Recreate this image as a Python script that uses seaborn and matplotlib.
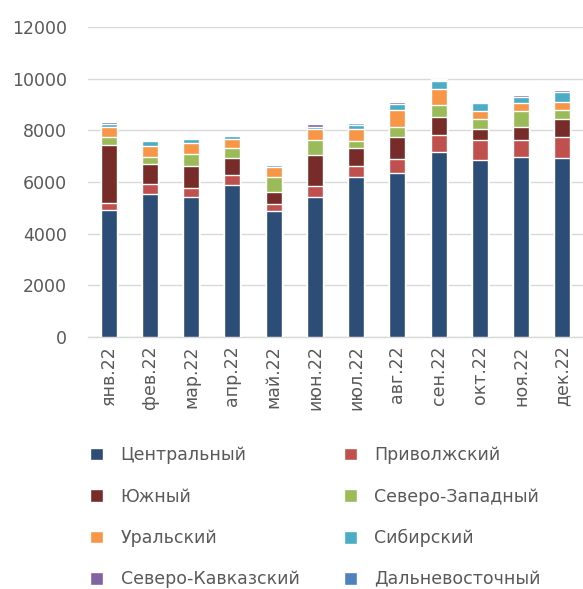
import numpy as np
import pandas as pd
import matplotlib
matplotlib.use("Agg")
import matplotlib.pyplot as plt
import seaborn as sns

# months (x categories)
months = ["янв.22", "фев.22", "мар.22", "апр.22", "май.22", "июн.22",
          "июл.22", "авг.22", "сен.22", "окт.22", "ноя.22", "дек.22"]

# series values
central = [4910, 5515, 5412, 5876, 4858, 5412, 6198, 6327, 7139, 6830, 6946, 6933]
volga = [270, 413, 361, 400, 297, 426, 413, 567, 670, 786, 683, 812]
south = [2256, 773, 825, 631, 451, 1211, 683, 825, 683, 438, 477, 670]
northwest = [283, 258, 477, 387, 592, 567, 283, 387, 464, 361, 618, 348]
ural = [387, 438, 425, 361, 387, 425, 451, 657, 657, 322, 335, 335]
siberia = [141, 167, 155, 116, 77, 90, 168, 232, 297, 297, 232, 374]
caucasus = [65, 52, 51, 20, 10, 104, 20, 77, 20, 51, 77, 64]
fareast = [20, 10, 10, 15, 40, 15, 64, 15, 51, 51, 39, 15]

names = ["Центральный", "Приволжский", "Южный", "Северо-Западный",
         "Уральский", "Сибирский", "Северо-Кавказский", "Дальневосточный"]
colors = ["#2C4D75", "#C0504D", "#772C2A", "#9BBB59",
          "#F79646", "#4BACC6", "#8064A2", "#4F81BD"]

series = [central, volga, south, northwest, ural, siberia, caucasus, fareast]
df = pd.DataFrame(dict(zip(names, series)), index=months)
cum = df.cumsum(axis=1)

sns.set_style("white")
plt.rcParams["font.family"] = ["DejaVu Sans"]

fig = plt.figure(figsize=(5.83, 5.89), dpi=100)
ax = fig.add_axes([0.151, 0.4278, 0.849, 0.5267])

# stacked bars: draw running totals from the top series down
for name, col in reversed(list(zip(names, colors))):
    sns.barplot(x=months, y=cum[name].values, color=col, saturation=1,
                width=0.385, ax=ax, label=name, zorder=3)

ax.set_ylim(0, 12000)
ax.set_yticks(range(0, 12001, 2000))
ax.yaxis.grid(True, color="#D9D9D9", linewidth=1, zorder=0)
ax.set_axisbelow(True)
for s in ["top", "right", "left"]:
    ax.spines[s].set_visible(False)
ax.spines["bottom"].set_color("#D9D9D9")
ax.spines["bottom"].set_linewidth(1)
ax.set_xlim(-0.5, 11.5)
ax.set_xticks(np.arange(-0.5, 12, 1), minor=True)
ax.tick_params(axis="x", which="minor", length=5, color="#D9D9D9", width=1)
ax.tick_params(axis="x", which="major", length=0, pad=6, labelsize=12.5,
               labelcolor="#595959", rotation=90)
ax.tick_params(axis="y", length=0, pad=15, labelsize=12.5, labelcolor="#595959")
ax.set_xlabel("")
ax.set_ylabel("")

# legend: two columns, entries in the original row order
h, l = ax.get_legend_handles_labels()
if ax.get_legend() is not None:
    ax.get_legend().remove()
lookup = dict(zip(l, h))
order = [0, 2, 4, 6, 1, 3, 5, 7]
leg = fig.legend([lookup[names[i]] for i in order], [names[i] for i in order],
                 ncol=2, frameon=False, loc="upper left",
                 bbox_to_anchor=(0.128, 0.269), fontsize=12.5,
                 handlelength=0.75, handleheight=0.75, handletextpad=1.0,
                 labelspacing=1.35, columnspacing=2.55, labelcolor="#595959")

fig.savefig("out.png", dpi=100)
